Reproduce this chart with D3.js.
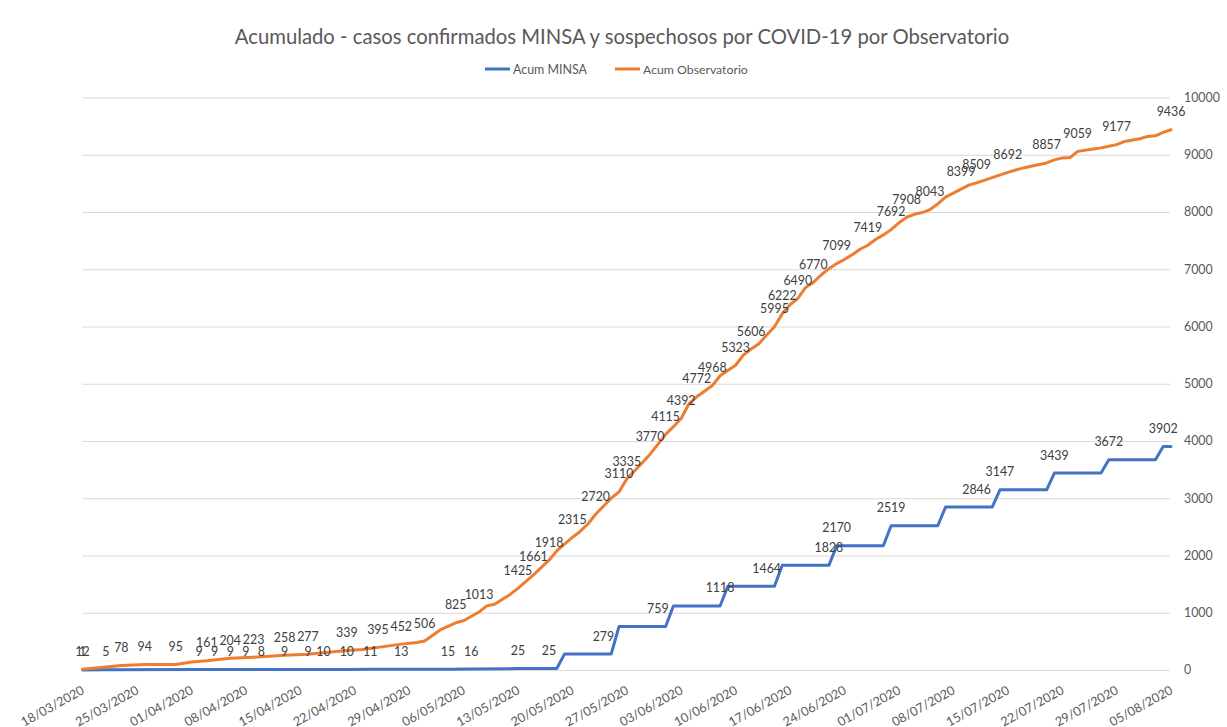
<!DOCTYPE html>
<html>
<head>
<meta charset="utf-8">
<script src="https://cdn.jsdelivr.net/npm/d3@7"></script>
<style>
  html, body { margin: 0; padding: 0; background: #ffffff; }
  svg { display: block; font-family: Lato, "Open Sans", sans-serif; }
</style>
</head>
<body>
<svg id="chart" width="1227" height="727"></svg>
<script>
// ---------------- DATA ----------------
const chartTitle = "Acumulado - casos confirmados MINSA y sospechosos por COVID-19 por Observatorio";
const seriesNames = ["Acum MINSA", "Acum Observatorio"];
const startDate = "18/03/2020";

// Day offsets from 18/03/2020 and cumulative values
const minsaDays   = [0, 3, 15, 17, 19, 21, 23, 26, 29, 31, 34, 37, 41, 47, 50, 56, 60, 61, 62, 67, 68, 69, 74, 75, 76, 82, 83, 88, 89, 90, 96, 97, 103, 104, 110, 111, 115, 117, 118, 124, 125, 131, 132, 138, 139, 140];
const minsaValues = [1, 5, 9, 9, 9, 9, 8, 9, 9, 10, 10, 11, 13, 15, 16, 25, 25, 25, 279, 279, 279, 759, 759, 759, 1118, 1118, 1464, 1464, 1464, 1828, 1828, 2170, 2170, 2519, 2519, 2846, 2846, 2846, 3147, 3147, 3439, 3439, 3672, 3672, 3902, 3902];
const minsaLabelDays = [0, 3, 15, 17, 19, 21, 23, 26, 29, 31, 34, 37, 41, 47, 50, 56, 60, 67, 74, 82, 88, 96, 97, 104, 115, 118, 125, 132, 139];

const obsDays   = [0, 5, 8, 12, 14, 16, 19, 22, 26, 29, 31, 34, 36, 38, 41, 43, 44, 46, 48, 49, 51, 52, 53, 55, 56, 58, 60, 61, 63, 64, 65, 66, 68, 69, 70, 72, 73, 74, 75, 76, 77, 78, 79, 80, 81, 82, 83, 84, 85, 86, 87, 88, 89, 90, 91, 92, 93, 94, 95, 96, 97, 98, 99, 100, 101, 102, 103, 104, 105, 106, 107, 108, 109, 110, 111, 112, 113, 114, 115, 117, 119, 121, 122, 124, 125, 126, 127, 128, 130, 131, 132, 133, 134, 136, 137, 138, 139, 140];
const obsValues = [12, 78, 94, 95, 140, 161, 204, 223, 258, 277, 300, 339, 360, 395, 452, 480, 506, 700, 825, 860, 1013, 1120, 1150, 1320, 1425, 1661, 1918, 2080, 2315, 2420, 2550, 2720, 3000, 3110, 3335, 3620, 3770, 3940, 4115, 4250, 4392, 4650, 4772, 4870, 4968, 5140, 5230, 5323, 5500, 5606, 5700, 5850, 5995, 6222, 6380, 6490, 6680, 6770, 6900, 7010, 7099, 7170, 7255, 7350, 7419, 7520, 7600, 7692, 7810, 7908, 7960, 7990, 8043, 8140, 8260, 8330, 8399, 8470, 8509, 8600, 8692, 8770, 8800, 8857, 8910, 8945, 8950, 9059, 9100, 9120, 9150, 9177, 9230, 9280, 9320, 9330, 9390, 9436];
const obsLabelDays = [0, 5, 8, 12, 16, 19, 22, 26, 29, 34, 38, 41, 44, 48, 51, 56, 58, 60, 63, 66, 69, 70, 73, 75, 77, 79, 81, 84, 86, 89, 90, 92, 94, 97, 101, 104, 106, 109, 113, 115, 119, 124, 128, 133, 140];

const xTickLabels = ["18/03/2020","25/03/2020","01/04/2020","08/04/2020","15/04/2020","22/04/2020","29/04/2020","06/05/2020","13/05/2020","20/05/2020","27/05/2020","03/06/2020","10/06/2020","17/06/2020","24/06/2020","01/07/2020","08/07/2020","15/07/2020","22/07/2020","29/07/2020","05/08/2020"];
const yTicks = [0, 1000, 2000, 3000, 4000, 5000, 6000, 7000, 8000, 9000, 10000];

// ---------------- LAYOUT / STYLE ----------------
const colors = ["#4472C4", "#ED7D31"];
const textColor = "#595959";
const labelColor = "#404040";
const plot = { left: 82.5, right: 1171, top: 97.5, bottom: 670 };

const parse = d3.utcParse("%d/%m/%Y");
const t0 = parse(startDate);
const dayToDate = d => d3.utcDay.offset(t0, d);
const tickDates = xTickLabels.map(parse);

const x = d3.scaleUtc()
  .domain([t0, tickDates[tickDates.length - 1]])
  .range([plot.left, plot.right]);
const y = d3.scaleLinear().domain([0, 10000]).range([plot.bottom, plot.top]);

const svg = d3.select("#chart");

// Gridlines + right axis labels
const yAxis = svg.append("g")
  .attr("transform", `translate(${plot.right - 1},0)`)
  .call(d3.axisRight(y).tickValues(yTicks).tickSize(-(plot.right - 1 - plot.left)).tickPadding(14).tickFormat(d3.format("d")));
yAxis.select(".domain").remove();
yAxis.selectAll(".tick line").attr("stroke", "#d9d9d9").attr("stroke-width", 1);
yAxis.selectAll(".tick text").attr("fill", textColor).style("font-size", "12.4px").style("font-family", "Lato, sans-serif");

// X axis
const xAxis = svg.append("g")
  .attr("transform", `translate(0,${plot.bottom})`)
  .call(d3.axisBottom(x).tickValues(tickDates).tickSize(0).tickFormat((d, i) => xTickLabels[i]));
xAxis.select(".domain").remove();
xAxis.selectAll(".tick text")
  .attr("y", 0).attr("dy", null)
  .attr("text-anchor", "end")
  .attr("dominant-baseline", "central")
  .attr("transform", "translate(0,19) rotate(-29)")
  .attr("fill", textColor)
  .style("font-size", "12.6px").style("font-family", "Lato, sans-serif");

// Lines
const series = [
  { name: seriesNames[0], days: minsaDays, values: minsaValues, labels: minsaLabelDays, color: colors[0] },
  { name: seriesNames[1], days: obsDays, values: obsValues, labels: obsLabelDays, color: colors[1] }
];
const line = d3.line().x(d => x(dayToDate(d[0]))).y(d => y(d[1]));

series.forEach(s => {
  const pts = s.days.map((d, i) => [d, s.values[i]]);
  svg.append("path")
    .datum(pts)
    .attr("fill", "none")
    .attr("stroke", s.color)
    .attr("stroke-width", 3)
    .attr("stroke-linejoin", "round")
    .attr("stroke-linecap", "round")
    .attr("d", line);
});

// Data labels
series.forEach(s => {
  const lab = s.labels.map(d => [d, s.values[s.days.indexOf(d)]]);
  svg.append("g").selectAll("text")
    .data(lab)
    .join("text")
    .attr("x", d => x(dayToDate(d[0])))
    .attr("y", d => y(d[1]) - 18)
    .attr("text-anchor", "middle")
    .attr("dominant-baseline", "central")
    .attr("fill", labelColor)
    .style("font-size", "12.4px")
    .text(d => d[1]);
});

// Title
const title = svg.append("text")
  .attr("x", 622).attr("y", 36)
  .attr("text-anchor", "middle")
  .attr("dominant-baseline", "central")
  .attr("fill", textColor)
  .style("font-size", "18px")
  .text(chartTitle);
const tl = title.node().getComputedTextLength();
title.style("font-size", (18 * 775 / tl) + "px");

// Legend
const legendItems = [
  { name: seriesNames[0], color: colors[0], x0: 485, width: 74 },
  { name: seriesNames[1], color: colors[1], x0: 615, width: 105 }
];
legendItems.forEach(li => {
  const g = svg.append("g");
  g.append("line")
    .attr("x1", li.x0).attr("x2", li.x0 + 25)
    .attr("y1", 69).attr("y2", 69)
    .attr("stroke", li.color).attr("stroke-width", 3);
  const t = g.append("text")
    .attr("x", li.x0 + 28).attr("y", 69)
    .attr("dominant-baseline", "central")
    .attr("fill", textColor)
    .style("font-size", "11px")
    .text(li.name);
  const w = t.node().getComputedTextLength();
  t.style("font-size", (11 * li.width / w) + "px");
});
</script>
</body>
</html>
